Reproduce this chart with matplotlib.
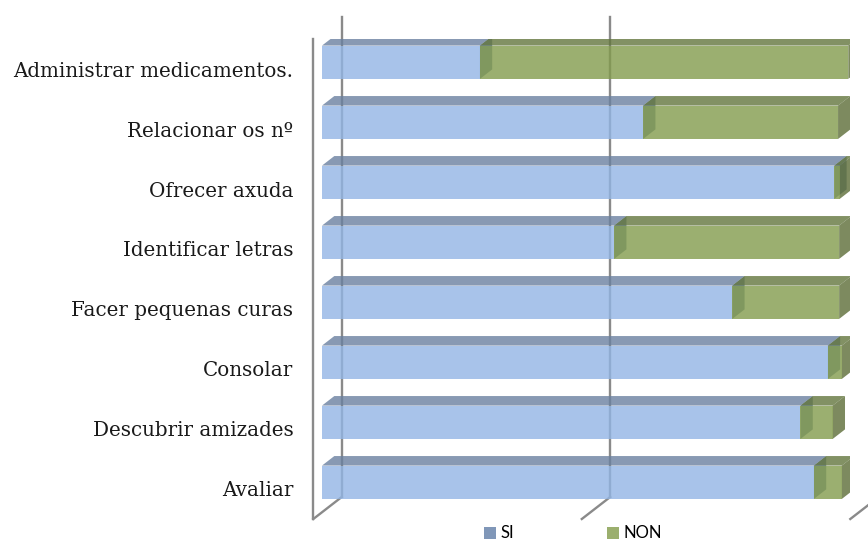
import matplotlib
matplotlib.use("Agg")
import matplotlib.pyplot as plt
from matplotlib.patches import Polygon, Patch

categories = ["Administrar medicamentos.", "Relacionar os nº", "Ofrecer axuda",
              "Identificar letras", "Facer pequenas curas", "Consolar",
              "Descubrir amizades", "Avaliar"]
si_values = [29.4, 59.8, 95.4, 54.4, 76.4, 94.2, 89.1, 91.6]
non_values = [68.6, 36.3, 1.0, 41.9, 19.9, 2.6, 6.0, 5.2]
series_names = ["SI", "NON"]
grid_ticks = [0, 50, 100]

W, H = 868, 540
fig = plt.figure(figsize=(W / 100, H / 100), dpi=100)
ax = fig.add_axes([313.3 / W, 1 - 519 / H, 537 / W, 480 / H])
ax.set_xlim(0, 100)
ax.set_ylim(len(categories) - 0.5, -0.5)

# 3D projection constants (depth offsets in data units)
DX = 28.4 / 5.37
DY = 22 / 60
z1, z2 = 0.306, 0.74
hh = 0.278
ALPHA = 0.8


def P(x, y, z):
    return (x + z * DX, y - z * DY)


# walls / gridlines
gcol = "#8a8a8a"
ylo, yhi = -0.5, len(categories) - 0.5
ax.plot(*zip(P(0, ylo, 0), P(0, yhi, 0)), color=gcol, lw=1.7, clip_on=False, zorder=1)
for g in grid_ticks:
    ax.plot(*zip(P(g, ylo, 1), P(g, yhi, 1)), color=gcol, lw=1.7, clip_on=False, zorder=1)
    ax.plot(*zip(P(g, yhi, 0), P(g, yhi, 1)), color=gcol, lw=1.7, clip_on=False, zorder=1)

front_cols = ["#92B5E5", "#829B4C"]
top_cols = ["#6A80A0", "#63763D"]
side_cols = ["#5C7695", "#5C6D37"]

for i, (s, n) in enumerate(zip(si_values, non_values)):
    segs = [(0, s), (s, s + n)]
    for k, (a, b) in enumerate(segs):
        top = [P(a, i - hh, z1), P(b, i - hh, z1), P(b, i - hh, z2), P(a, i - hh, z2)]
        side = [P(b, i - hh, z1), P(b, i + hh, z1), P(b, i + hh, z2), P(b, i - hh, z2)]
        ax.add_patch(Polygon(top, closed=True, fc=top_cols[k], ec="none", alpha=ALPHA, zorder=2))
        ax.add_patch(Polygon(side, closed=True, fc=side_cols[k], ec="none", alpha=ALPHA, zorder=2))
    yfront = i - z1 * DY
    ax.barh(yfront, s, left=z1 * DX, height=2 * hh, color=front_cols[0], alpha=ALPHA,
            edgecolor="none", zorder=3)
    ax.barh(yfront, n, left=s + z1 * DX, height=2 * hh, color=front_cols[1], alpha=ALPHA,
            edgecolor="none", zorder=3)

for sp in ax.spines.values():
    sp.set_visible(False)
ax.set_xticks([])
ax.set_yticks(range(len(categories)))
ax.set_yticklabels(categories, fontfamily="DejaVu Serif", fontsize=14.3, color="#1a1a1a")
ax.tick_params(axis="y", length=0, pad=14.4)
ax.patch.set_visible(False)

handles = [Patch(facecolor="#8097B8", edgecolor="none"), Patch(facecolor="#9BAF6E", edgecolor="none")]
fig.legend(handles, series_names, loc="center", bbox_to_anchor=(573 / W, 1 - 533.5 / H),
           ncol=2, frameon=False, prop={"family": "Lato", "size": 12},
           handlelength=0.7, handleheight=0.7, handletextpad=0.25, columnspacing=5.6,
           borderpad=0, borderaxespad=0)

fig.savefig("out.png", dpi=100)
